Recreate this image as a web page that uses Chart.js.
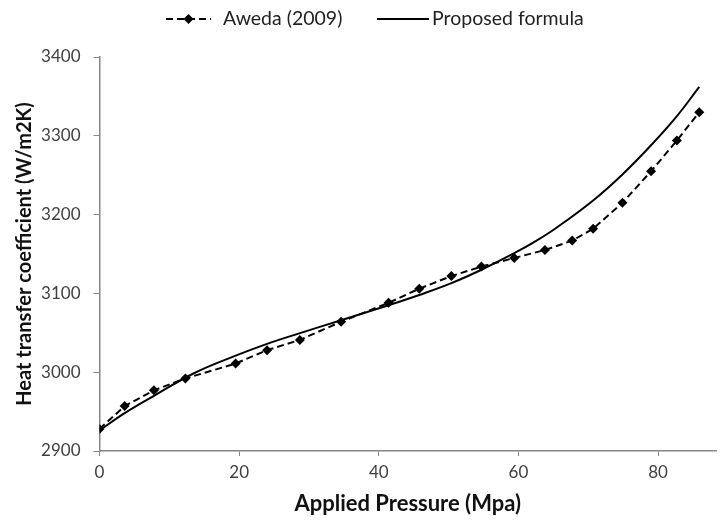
<!DOCTYPE html>
<html>
<head>
<meta charset="utf-8">
<script src="https://cdn.jsdelivr.net/npm/chart.js@4"></script>
<style>
  html, body { margin: 0; padding: 0; background: #fff; }
  #wrap { width: 721px; height: 521px; }
</style>
</head>
<body>
<div id="wrap"><canvas id="htcChart" width="721" height="521"></canvas></div>
<script>
// Aweda (2009) measurements
const awedaPressure = [0, 3.6, 7.8, 12.3, 19.5, 24.0, 28.7, 34.6, 41.4, 45.8, 50.4, 54.7, 59.4, 63.8, 67.7, 70.7, 74.9, 79.0, 82.7, 85.9];
const awedaHtc = [2928, 2957, 2977, 2992, 3011, 3028, 3041, 3064, 3088, 3106, 3122, 3134, 3145, 3155, 3167, 3182, 3215, 3255, 3294, 3330];

// proposed formula, sampled along the curve
const formulaPressure = [0, 3.6, 7.8, 13.6, 19.5, 24.0, 28.5, 34.6, 41.4, 45.8, 50.4, 54.7, 59.4, 62.6, 65.4, 70.7, 74.9, 79.0, 82.7, 85.9];
const formulaHtc = [2926, 2948, 2970, 2999, 3021, 3036, 3049, 3066, 3085, 3098, 3113, 3130, 3151, 3167, 3183, 3218, 3251, 3288, 3325, 3362];

const xTicks = [0, 20, 40, 60, 80];
const yTicks = [2900, 3000, 3100, 3200, 3300, 3400];

const FONT = 'Lato, "Open Sans", sans-serif';
const axisGrey = '#868686';
const labelColor = '#404040';

const toPoints = (xs, ys) => xs.map((x, i) => ({ x, y: ys[i] }));

// legend drawn by hand so the dashed line keeps its diamond marker
const sampleLegend = {
  id: 'sampleLegend',
  afterDraw(chart) {
    const ctx = chart.ctx;
    const y = 19;
    ctx.save();
    ctx.strokeStyle = '#000';
    ctx.fillStyle = '#000';
    ctx.lineWidth = 2;

    ctx.setLineDash([7, 4]);
    ctx.beginPath();
    ctx.moveTo(166, y);
    ctx.lineTo(211, y);
    ctx.stroke();
    ctx.setLineDash([]);
    ctx.beginPath();
    ctx.moveTo(188.5, y - 5);
    ctx.lineTo(193.5, y);
    ctx.lineTo(188.5, y + 5);
    ctx.lineTo(183.5, y);
    ctx.closePath();
    ctx.fill();

    ctx.beginPath();
    ctx.moveTo(377, y);
    ctx.lineTo(429, y);
    ctx.stroke();

    ctx.font = '19.5px ' + FONT;
    ctx.fillStyle = '#222';
    ctx.textBaseline = 'middle';
    ctx.fillText(chart.data.datasets[0].label, 223, y);
    ctx.fillText(chart.data.datasets[1].label, 432, y);
    ctx.restore();
  }
};

new Chart(document.getElementById('htcChart'), {
  type: 'line',
  data: {
    datasets: [
      {
        label: 'Aweda (2009)',
        data: toPoints(awedaPressure, awedaHtc),
        borderColor: '#000',
        backgroundColor: '#000',
        borderWidth: 2,
        borderDash: [7, 4],
        pointStyle: 'rectRot',
        pointRadius: 5,
        pointBorderWidth: 0,
        tension: 0
      },
      {
        label: 'Proposed formula',
        data: toPoints(formulaPressure, formulaHtc),
        borderColor: '#000',
        borderWidth: 2,
        pointRadius: 0,
        tension: 0.4
      }
    ]
  },
  options: {
    responsive: false,
    animation: false,
    layout: { padding: { top: 57, right: 0, bottom: 0, left: 13 } },
    plugins: {
      legend: { display: false },
      tooltip: { enabled: false }
    },
    scales: {
      x: {
        type: 'linear',
        min: 0,
        max: 88.3,
        afterBuildTicks: s => { s.ticks = xTicks.map(v => ({ value: v })); },
        afterFit: s => { s.height = 70; },
        grid: { drawOnChartArea: false, color: axisGrey, tickLength: 5 },
        border: { color: axisGrey, width: 1.5 },
        ticks: { color: labelColor, font: { family: FONT, size: 17 }, padding: 6, maxRotation: 0 },
        title: {
          display: true,
          text: 'Applied Pressure (Mpa)',
          color: '#111',
          font: { family: FONT, size: 22, weight: 'bold' },
          padding: { top: 1 }
        }
      },
      y: {
        min: 2900,
        max: 3400,
        afterBuildTicks: s => { s.ticks = yTicks.map(v => ({ value: v })); },
        afterFit: s => { s.width = 86.5; },
        grid: { drawOnChartArea: false, color: axisGrey, tickLength: 6 },
        border: { color: axisGrey, width: 1.5 },
        ticks: { color: labelColor, font: { family: FONT, size: 17 }, padding: 13, callback: v => String(v) },
        title: {
          display: true,
          text: 'Heat transfer coefficient (W/m2K)',
          color: '#111',
          font: { family: FONT, size: 20, weight: 'bold' },
          padding: 0
        }
      }
    }
  },
  plugins: [sampleLegend]
});
</script>
</body>
</html>
